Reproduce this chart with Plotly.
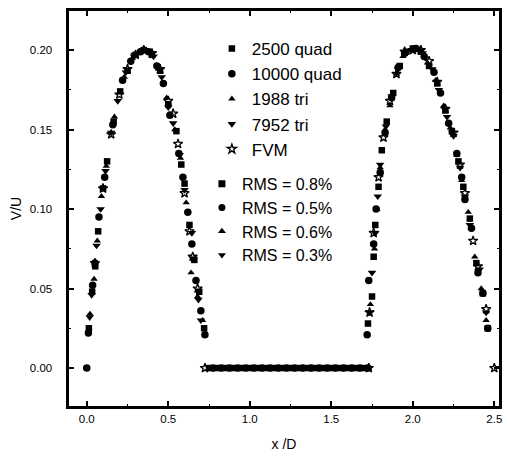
import plotly.graph_objects as go

# ---- data ----
quad2500_x = [0.013, 0.033, 0.052, 0.07, 0.10, 0.125, 0.165, 0.205, 0.25, 0.30, 0.35, 0.40, 0.45, 0.50, 0.55, 0.58, 0.60, 0.63, 0.66, 0.69, 0.72,
              0.75, 0.80, 0.85, 0.90, 0.95, 1.00, 1.05, 1.10, 1.15, 1.20, 1.25, 1.30, 1.35, 1.40, 1.45, 1.50, 1.55, 1.60, 1.65, 1.70,
              1.725, 1.75, 1.76, 1.77, 1.79, 1.81, 1.84, 1.88, 1.92, 1.96, 2.00, 2.05, 2.10, 2.15, 2.20, 2.24, 2.28, 2.31, 2.35, 2.39, 2.43, 2.46]
quad2500_y = [0.025, 0.048, 0.064, 0.086, 0.113, 0.130, 0.155, 0.174, 0.187, 0.197, 0.200, 0.197, 0.187, 0.166, 0.149, 0.128, 0.116, 0.090, 0.068, 0.048, 0.025,
              0, 0, 0, 0, 0, 0, 0, 0, 0, 0, 0, 0, 0, 0, 0, 0, 0, 0, 0, 0,
              0.028, 0.045, 0.070, 0.090, 0.114, 0.137, 0.155, 0.173, 0.190, 0.199, 0.201, 0.199, 0.190, 0.179, 0.162, 0.149, 0.130, 0.114, 0.094, 0.066, 0.047, 0.025]

quad10000_x = [0.0, 0.01, 0.036, 0.05, 0.075, 0.11, 0.16, 0.22, 0.27, 0.33, 0.38, 0.43, 0.47, 0.51, 0.565, 0.59, 0.62, 0.645, 0.67, 0.70, 0.725,
               0.775, 0.825, 0.875, 0.925, 0.975, 1.025, 1.075, 1.125, 1.175, 1.225, 1.275, 1.325, 1.375, 1.425, 1.475, 1.525, 1.575, 1.625, 1.675, 1.725,
               1.72, 1.73, 1.76, 1.775, 1.80, 1.83, 1.87, 1.91, 1.95, 2.02, 2.07, 2.13, 2.17, 2.22, 2.27, 2.30, 2.32, 2.36, 2.40, 2.43, 2.46]
quad10000_y = [0.0, 0.022, 0.052, 0.066, 0.095, 0.120, 0.153, 0.181, 0.193, 0.199, 0.199, 0.190, 0.179, 0.159, 0.135, 0.120, 0.098, 0.078, 0.055, 0.036, 0.021,
               0, 0, 0, 0, 0, 0, 0, 0, 0, 0, 0, 0, 0, 0, 0, 0, 0, 0, 0, 0,
               0.021, 0.055, 0.078, 0.100, 0.123, 0.148, 0.170, 0.189, 0.198, 0.201, 0.196, 0.186, 0.173, 0.154, 0.135, 0.120, 0.106, 0.088, 0.060, 0.047, 0.025]

tri1988_x = [0.02, 0.045, 0.065, 0.09, 0.12, 0.17, 0.23, 0.28, 0.34, 0.39, 0.44, 0.49, 0.54, 0.575, 0.61, 0.64, 0.68, 0.71,
             0.75, 0.80, 0.85, 0.90, 0.95, 1.00, 1.05, 1.10, 1.15, 1.20, 1.25, 1.30, 1.35, 1.40, 1.45, 1.50, 1.55, 1.60, 1.65, 1.70,
             1.74, 1.765, 1.78, 1.80, 1.83, 1.86, 1.90, 1.94, 1.99, 2.04, 2.09, 2.14, 2.19, 2.23, 2.27, 2.30, 2.34, 2.38, 2.42, 2.45]
tri1988_y = [0.034, 0.056, 0.080, 0.108, 0.127, 0.158, 0.183, 0.195, 0.200, 0.198, 0.188, 0.170, 0.150, 0.132, 0.104, 0.060, 0.045, 0.030,
             0, 0, 0, 0, 0, 0, 0, 0, 0, 0, 0, 0, 0, 0, 0, 0, 0, 0, 0, 0,
             0.040, 0.075, 0.100, 0.126, 0.150, 0.165, 0.185, 0.196, 0.200, 0.200, 0.192, 0.181, 0.165, 0.151, 0.134, 0.118, 0.098, 0.070, 0.050, 0.030]

tri7952_x = [0.018, 0.03, 0.06, 0.085, 0.115, 0.15, 0.19, 0.24, 0.29, 0.36, 0.41, 0.46, 0.50, 0.53, 0.57, 0.60, 0.645, 0.65, 0.685, 0.70,
             0.775, 0.825, 0.875, 0.925, 0.975, 1.025, 1.075, 1.125, 1.175, 1.225, 1.275, 1.325, 1.375, 1.425, 1.475, 1.525, 1.575, 1.625, 1.675, 1.725,
             1.735, 1.75, 1.77, 1.785, 1.80, 1.835, 1.87, 1.91, 1.95, 2.01, 2.06, 2.12, 2.16, 2.21, 2.25, 2.29, 2.32, 2.35, 2.41, 2.45]
tri7952_y = [0.032, 0.046, 0.077, 0.100, 0.124, 0.148, 0.168, 0.186, 0.196, 0.200, 0.196, 0.183, 0.164, 0.154, 0.134, 0.112, 0.085, 0.069, 0.043, 0.030,
             0, 0, 0, 0, 0, 0, 0, 0, 0, 0, 0, 0, 0, 0, 0, 0, 0, 0, 0, 0,
             0.035, 0.060, 0.085, 0.108, 0.128, 0.152, 0.171, 0.188, 0.198, 0.200, 0.198, 0.188, 0.175, 0.158, 0.146, 0.126, 0.108, 0.090, 0.062, 0.035]

fvm_x = [0.05, 0.10, 0.15, 0.20, 0.25, 0.30, 0.35, 0.40, 0.45, 0.50, 0.53, 0.56, 0.60, 0.63, 0.65, 0.68,
         0.725, 1.73,
         1.735, 1.76, 1.79, 1.82, 1.86, 1.90, 1.95, 2.00, 2.05, 2.10, 2.15, 2.20, 2.25, 2.29, 2.32, 2.37, 2.40, 2.45, 2.50]
fvm_y = [0.066, 0.113, 0.147, 0.172, 0.188, 0.197, 0.200, 0.198, 0.188, 0.168, 0.160, 0.141, 0.110, 0.086, 0.070, 0.050,
         0.0, 0.0,
         0.035, 0.085, 0.120, 0.145, 0.168, 0.185, 0.199, 0.200, 0.200, 0.193, 0.180, 0.163, 0.148, 0.128, 0.110, 0.080, 0.064, 0.037, 0.0]

series_names = ["2500 quad", "10000 quad", "1988 tri", "7952 tri", "FVM"]
rms_labels = ["RMS = 0.8%", "RMS = 0.5%", "RMS = 0.6%", "RMS = 0.3%"]

x_ticks = [0.0, 0.5, 1.0, 1.5, 2.0, 2.5]
y_ticks = [0.00, 0.05, 0.10, 0.15, 0.20]

X_RANGE = [-0.115, 2.535]
Y_RANGE = [-0.0245, 0.2252]

# ---- figure ----
fig = go.Figure()
series = [
    (quad2500_x, quad2500_y, "square", 6.5),
    (quad10000_x, quad10000_y, "circle", 7.5),
    (tri1988_x, tri1988_y, "triangle-up", 6.5),
    (tri7952_x, tri7952_y, "triangle-down", 7.5),
    (fvm_x, fvm_y, "star-open", 7),
]
for (xs, ys, sym, sz), name in zip(series, series_names):
    fig.add_trace(go.Scatter(
        x=xs, y=ys, mode="markers", name=name, legend="legend",
        marker=dict(symbol=sym, size=sz, color="black",
                    line=dict(color="black", width=1.3 if sym == "star-open" else 0)),
    ))

rms_symbols = ["square", "circle", "triangle-up", "triangle-down"]
for lab, sym in zip(rms_labels, rms_symbols):
    fig.add_trace(go.Scatter(
        x=[None], y=[None], mode="markers", name=lab, legend="legend2",
        marker=dict(symbol=sym, size=7, color="black"),
    ))

axis_common = dict(
    showline=True, linecolor="black", linewidth=2, mirror="allticks",
    ticks="inside", ticklen=6, tickwidth=1.5, tickcolor="black",
    showgrid=False, zeroline=False,
    tickfont=dict(family="Liberation Sans, Arial", size=11.5, color="black"),
)

fig.update_layout(
    xaxis=dict(
        range=X_RANGE, tickvals=x_ticks, ticktext=[f"{v:.1f}" for v in x_ticks],
        title=dict(text="x /D", font=dict(family="Liberation Sans, Arial", size=14, color="black"), standoff=15),
        minor=dict(ticks="inside", ticklen=3, tickwidth=1.2, tickcolor="black", dtick=0.25),
        **axis_common,
    ),
    yaxis=dict(
        range=Y_RANGE, tickvals=y_ticks, ticktext=[f"{v:.2f}\u2002\u2002" for v in y_ticks],
        title=dict(text="V/U", font=dict(family="Liberation Sans, Arial", size=14, color="black"), standoff=5),
        minor=dict(ticks="inside", ticklen=3, tickwidth=1.2, tickcolor="black", dtick=0.025),
        **axis_common,
    ),
)

# plot frame
fig.add_shape(type="rect", xref="paper", yref="paper", x0=0, x1=1, y0=0, y1=1,
              line=dict(color="black", width=2), fillcolor="rgba(0,0,0,0)", layer="above")

fig.update_layout(
    width=507, height=463,
    margin=dict(l=68, r=7, t=10, b=56, autoexpand=False),
    paper_bgcolor="white", plot_bgcolor="white",
    showlegend=True,
    legend=dict(x=0.333, y=0.947, xanchor="left", yanchor="top",
                bgcolor="rgba(0,0,0,0)", borderwidth=0,
                font=dict(family="Liberation Sans, Arial", size=17, color="black")),
    legend2=dict(x=0.31, y=0.605, xanchor="left", yanchor="top",
                 bgcolor="rgba(0,0,0,0)", borderwidth=0,
                 font=dict(family="Liberation Sans, Arial", size=16, color="black")),
)

fig.write_html(
    "out.html",
    config={"displayModeBar": False},
    post_script="document.body.style.margin='0';document.body.style.overflow='hidden';"
                "document.documentElement.style.overflow='hidden';",
)
